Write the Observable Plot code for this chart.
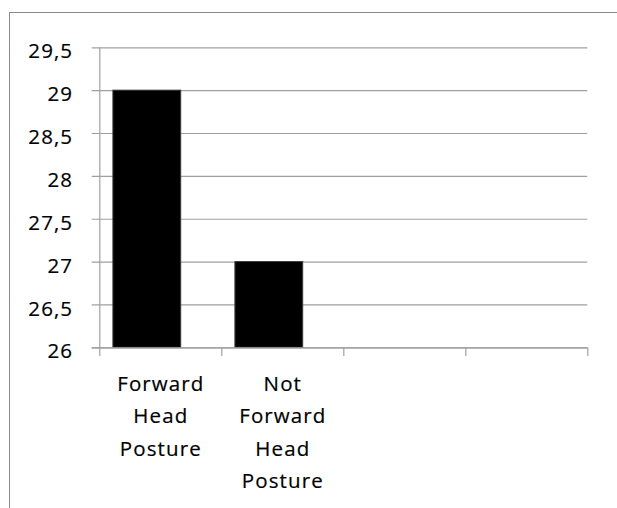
<!DOCTYPE html>
<html>
<head>
<meta charset="utf-8">
<script src="https://cdn.jsdelivr.net/npm/d3@7"></script>
<script src="https://cdn.jsdelivr.net/npm/@observablehq/plot@0.6"></script>
<style>
  html, body { margin: 0; padding: 0; background: #fff; overflow: hidden; }
  #wrap { position: relative; width: 617px; height: 508px; }
  #border { position: absolute; left: 9px; top: 12px; width: 700px; height: 600px;
            border-left: 1px solid #8a8a8a; border-top: 1px solid #8a8a8a; pointer-events: none; }
  svg text { letter-spacing: 1.1px; }
</style>
</head>
<body>
<div id="wrap"><div id="border"></div></div>
<script>
const categories = ["Forward\nHead\nPosture", "Not\nForward\nHead\nPosture", "", ""];
const values = [29, 27, null, null];
const yTicks = [26, 26.5, 27, 27.5, 28, 28.5, 29, 29.5];
const yDomain = [26, 29.5];

const data = categories.map((c, i) => ({i, label: c, value: values[i]}));
const bars = data.filter(d => d.value != null);
const boundaries = d3.range(categories.length + 1);
const fmt = v => String(v).replace(".", ",");

const chart = Plot.plot({
  width: 617,
  height: 508,
  marginTop: 47.3,
  marginBottom: 160.7,
  marginLeft: 99.3,
  marginRight: 29.7,
  style: {fontFamily: "'Open Sans', sans-serif", fontSize: "20px", color: "#000", background: "transparent"},
  x: {type: "linear", domain: [0, categories.length], axis: null},
  y: {type: "linear", domain: yDomain, axis: null},
  marks: [
    Plot.ruleY(yTicks, {y: d => d, x1: 0, x2: categories.length, insetLeft: -7.6, stroke: "#a0a0a0", strokeWidth: 1.2}),
    Plot.rectY(bars, {x1: d => d.i, x2: d => d.i + 1, y1: yDomain[0], y2: "value",
      insetLeft: 13.6, insetRight: 40.6, fill: "#000", stroke: "#3a3a3a", strokeWidth: 1}),
    Plot.ruleY([yDomain[0]], {x1: 0, x2: categories.length, insetLeft: -7.6, stroke: "#a0a0a0", strokeWidth: 1.2}),
    Plot.ruleX(boundaries, {x: d => d, y1: yDomain[0], y2: yDomain[0], stroke: "#a0a0a0", strokeWidth: 1.2, insetBottom: -8.7}),
    Plot.ruleX([0], {x: d => d, y1: yDomain[0], y2: yDomain[1], stroke: "#a0a0a0", strokeWidth: 1.2}),
    Plot.text(yTicks, {x: () => 0, y: d => d, text: fmt, textAnchor: "end", dx: -26.6, dy: 4,
      fill: "#000", stroke: "#000", strokeWidth: 0.2, fontSize: 20.5}),
    Plot.text(data, {x: d => d.i + 0.5, y: () => yDomain[0], text: "label", lineAnchor: "top",
      dy: 20, lineHeight: 1.585, fill: "#000", stroke: "#000", strokeWidth: 0.2, fontSize: 20.5})
  ]
});
document.getElementById("wrap").prepend(chart);
chart.style.position = "absolute";
chart.style.left = "0";
chart.style.top = "0";
</script>
</body>
</html>
